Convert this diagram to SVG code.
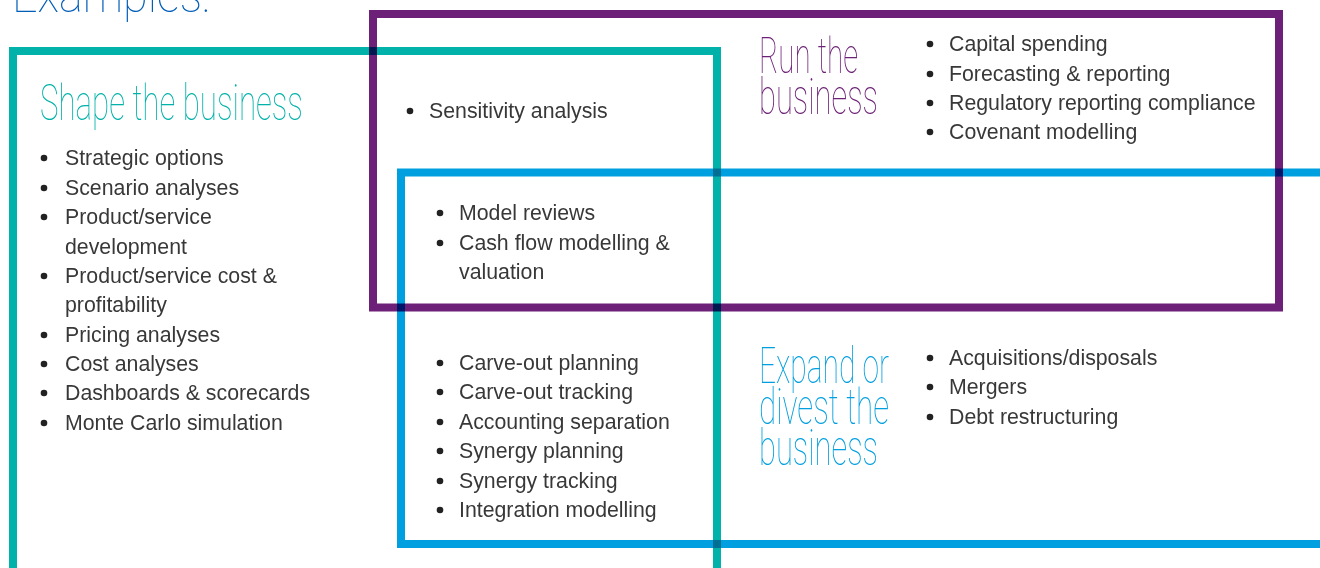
<svg xmlns="http://www.w3.org/2000/svg" width="1320" height="568" viewBox="0 0 1320 568">
<style>
.frame{fill:none;stroke-width:8;mix-blend-mode:multiply}
.head{font-family:Roboto,"Liberation Sans",sans-serif;font-weight:100;font-size:50px}
.item{font-family:"Liberation Sans",Arial,sans-serif;font-size:21.3px;fill:#383838}
.dot{fill:#222222}
</style>
<rect width="1320" height="568" fill="#ffffff"/>
<text transform="translate(12,12) scale(0.9,1)" class="head" fill="#005EB8" textLength="220" lengthAdjust="spacingAndGlyphs">Examples:</text>
<g id="frames">
<rect id="frame-shape" class="frame" x="13" y="51" width="704" height="600" stroke="#00B2A9"/>
<rect id="frame-run" class="frame" x="373" y="14" width="906" height="293.5" stroke="#6D2077"/>
<rect id="frame-expand" class="frame" x="401" y="172.5" width="1000" height="371.5" stroke="#009FDF"/>
</g>
<g id="shape-the-business">
<text transform="translate(40,120) scale(0.62,1)" class="head" fill="#00B2A9" textLength="424" lengthAdjust="spacingAndGlyphs">Shape the business</text>
<circle class="dot" cx="44" cy="158" r="3.3"/><text x="65" y="165" class="item">Strategic options</text>
<circle class="dot" cx="44" cy="188" r="3.3"/><text x="65" y="195" class="item">Scenario analyses</text>
<circle class="dot" cx="44" cy="217" r="3.3"/><text x="65" y="224" class="item">Product/service</text>
<text x="65" y="254" class="item">development</text>
<circle class="dot" cx="44" cy="276" r="3.3"/><text x="65" y="283" class="item">Product/service cost &amp;</text>
<text x="65" y="312" class="item">profitability</text>
<circle class="dot" cx="44" cy="335" r="3.3"/><text x="65" y="342" class="item">Pricing analyses</text>
<circle class="dot" cx="44" cy="364" r="3.3"/><text x="65" y="371" class="item">Cost analyses</text>
<circle class="dot" cx="44" cy="393" r="3.3"/><text x="65" y="400" class="item">Dashboards &amp; scorecards</text>
<circle class="dot" cx="44" cy="423" r="3.3"/><text x="65" y="430" class="item">Monte Carlo simulation</text>
</g>
<g id="shape-run-overlap">
<circle class="dot" cx="410" cy="111" r="3.3"/><text x="429" y="118" class="item">Sensitivity analysis</text>
</g>
<g id="all-overlap">
<circle class="dot" cx="440" cy="213" r="3.3"/><text x="459" y="220" class="item">Model reviews</text>
<circle class="dot" cx="440" cy="243" r="3.3"/><text x="459" y="250" class="item">Cash flow modelling &amp;</text>
<text x="459" y="279" class="item">valuation</text>
</g>
<g id="run-the-business">
<text transform="translate(759,73) scale(0.6,1)" class="head" fill="#6D2077" textLength="165" lengthAdjust="spacingAndGlyphs">Run the</text>
<text transform="translate(759,114) scale(0.613,1)" class="head" fill="#6D2077" textLength="194" lengthAdjust="spacingAndGlyphs">business</text>
<circle class="dot" cx="930" cy="44" r="3.3"/><text x="949" y="51" class="item">Capital spending</text>
<circle class="dot" cx="930" cy="74" r="3.3"/><text x="949" y="81" class="item">Forecasting &amp; reporting</text>
<circle class="dot" cx="930" cy="103" r="3.3"/><text x="949" y="110" class="item">Regulatory reporting compliance</text>
<circle class="dot" cx="930" cy="132" r="3.3"/><text x="949" y="139" class="item">Covenant modelling</text>
</g>
<g id="shape-expand-overlap">
<circle class="dot" cx="440" cy="363" r="3.3"/><text x="459" y="370" class="item">Carve-out planning</text>
<circle class="dot" cx="440" cy="392" r="3.3"/><text x="459" y="399" class="item">Carve-out tracking</text>
<circle class="dot" cx="440" cy="422" r="3.3"/><text x="459" y="429" class="item">Accounting separation</text>
<circle class="dot" cx="440" cy="451" r="3.3"/><text x="459" y="458" class="item">Synergy planning</text>
<circle class="dot" cx="440" cy="481" r="3.3"/><text x="459" y="488" class="item">Synergy tracking</text>
<circle class="dot" cx="440" cy="510" r="3.3"/><text x="459" y="517" class="item">Integration modelling</text>
</g>
<g id="expand-or-divest">
<text transform="translate(759,383) scale(0.606,1)" class="head" fill="#009FDF" textLength="214.5" lengthAdjust="spacingAndGlyphs">Expand or</text>
<text transform="translate(759,424) scale(0.616,1)" class="head" fill="#009FDF" textLength="211" lengthAdjust="spacingAndGlyphs">divest the</text>
<text transform="translate(759,465) scale(0.613,1)" class="head" fill="#009FDF" textLength="194" lengthAdjust="spacingAndGlyphs">business</text>
<circle class="dot" cx="930" cy="358" r="3.3"/><text x="949" y="365" class="item">Acquisitions/disposals</text>
<circle class="dot" cx="930" cy="387" r="3.3"/><text x="949" y="394" class="item">Mergers</text>
<circle class="dot" cx="930" cy="417" r="3.3"/><text x="949" y="424" class="item">Debt restructuring</text>
</g>
</svg>
